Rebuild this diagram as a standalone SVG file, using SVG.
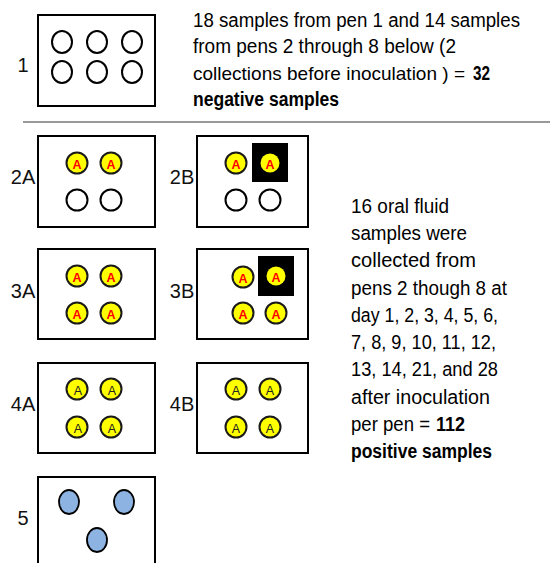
<svg xmlns="http://www.w3.org/2000/svg" width="550" height="563" viewBox="0 0 550 563">
<style>
.box{fill:#fff;stroke:#000;stroke-width:2}
.w{fill:#fff;stroke:#000;stroke-width:2}
.y{fill:#ffff00;stroke:#1a1a1a;stroke-width:2}
.yi{fill:#ffff00;stroke:none}
.b{fill:#8db3e2;stroke:#000;stroke-width:1.8}
.sq{fill:#000}
.lbl{font-family:"Liberation Sans",Arial,sans-serif;font-size:20px;fill:#111;text-anchor:middle}
.ar{font-family:"Liberation Sans",Arial,sans-serif;font-size:12.5px;font-weight:bold;fill:#ff0000;text-anchor:middle}
.ak{font-family:"Liberation Sans",Arial,sans-serif;font-size:12.5px;fill:#222;text-anchor:middle}
.t{font-family:"Liberation Sans",Arial,sans-serif;font-size:20px;fill:#000}
.tb{font-weight:bold}
</style>
<rect width="550" height="563" fill="#fff"/>
<g id="connectors">
<line x1="23" y1="122" x2="550" y2="122" stroke="#777" stroke-width="1.5"/>
</g>
<g id="pen1">
<rect class="box" x="38" y="15" width="117" height="91"/>
<ellipse class="w" cx="62" cy="42" rx="10" ry="11"/>
<ellipse class="w" cx="97" cy="42" rx="10" ry="11"/>
<ellipse class="w" cx="132" cy="42" rx="10" ry="11"/>
<ellipse class="w" cx="62" cy="72" rx="10" ry="11"/>
<ellipse class="w" cx="97" cy="72" rx="10" ry="11"/>
<ellipse class="w" cx="132" cy="72" rx="10" ry="11"/>
<text class="lbl" x="23" y="72">1</text>
</g>
<g id="text-top">
<text class="t" x="193" y="27" textLength="327" lengthAdjust="spacingAndGlyphs">18 samples from pen 1 and 14 samples</text>
<text class="t" x="193" y="53" textLength="263" lengthAdjust="spacingAndGlyphs">from pens 2 through 8 below (2</text>
<text class="t" x="193" y="80" style="font-size:18.6px" textLength="272" lengthAdjust="spacingAndGlyphs">collections before inoculation ) =</text>
<text class="t tb" x="473" y="80" textLength="17" lengthAdjust="spacingAndGlyphs">32</text>
<text class="t tb" x="193" y="106" textLength="146" lengthAdjust="spacingAndGlyphs">negative samples</text>
</g>
<g id="pen2A">
<rect class="box" x="38" y="136" width="117" height="91"/>
<circle class="y" cx="77" cy="163" r="10.5"/><text class="ar" x="77" y="169">A</text>
<circle class="y" cx="111" cy="163" r="10.5"/><text class="ar" x="111" y="169">A</text>
<circle class="w" cx="77" cy="200" r="10.5"/>
<circle class="w" cx="111" cy="200" r="10.5"/>
<text class="lbl" x="23" y="184">2A</text>
</g>
<g id="pen2B">
<rect class="box" x="197" y="136" width="111" height="91"/>
<circle class="y" cx="236" cy="163" r="10.5"/><text class="ar" x="236" y="169">A</text>
<rect class="sq" x="252" y="143" width="36" height="39"/>
<circle class="yi" cx="270" cy="163" r="9.5"/><text class="ar" x="270" y="169">A</text>
<circle class="w" cx="236" cy="200" r="10.5"/>
<circle class="w" cx="270" cy="200" r="10.5"/>
<text class="lbl" x="182" y="184">2B</text>
</g>
<g id="pen3A">
<rect class="box" x="38" y="249" width="117" height="90"/>
<circle class="y" cx="77" cy="276" r="10.5"/><text class="ar" x="77" y="282">A</text>
<circle class="y" cx="111" cy="276" r="10.5"/><text class="ar" x="111" y="282">A</text>
<circle class="y" cx="77" cy="313" r="10.5"/><text class="ar" x="77" y="319">A</text>
<circle class="y" cx="111" cy="313" r="10.5"/><text class="ar" x="111" y="319">A</text>
<text class="lbl" x="23" y="298">3A</text>
</g>
<g id="pen3B">
<rect class="box" x="197" y="249" width="111" height="90"/>
<circle class="y" cx="243" cy="277" r="10.5"/><text class="ar" x="243" y="283">A</text>
<rect class="sq" x="258" y="256" width="36" height="40"/>
<circle class="yi" cx="276" cy="276" r="9.5"/><text class="ar" x="276" y="282">A</text>
<circle class="y" cx="243" cy="313" r="10.5"/><text class="ar" x="243" y="319">A</text>
<circle class="y" cx="276" cy="313" r="10.5"/><text class="ar" x="276" y="319">A</text>
<text class="lbl" x="182" y="298">3B</text>
</g>
<g id="pen4A">
<rect class="box" x="38" y="363" width="117" height="90"/>
<circle class="y" cx="77" cy="389" r="10.5"/><text class="ak" x="78" y="395">A</text>
<circle class="y" cx="111" cy="389" r="10.5"/><text class="ak" x="112" y="395">A</text>
<circle class="y" cx="77" cy="427" r="10.5"/><text class="ak" x="78" y="433">A</text>
<circle class="y" cx="111" cy="427" r="10.5"/><text class="ak" x="112" y="433">A</text>
<text class="lbl" x="23" y="411">4A</text>
</g>
<g id="pen4B">
<rect class="box" x="197" y="363" width="111" height="90"/>
<circle class="y" cx="236" cy="389" r="10.5"/><text class="ak" x="236" y="395">A</text>
<circle class="y" cx="270" cy="389" r="10.5"/><text class="ak" x="270" y="395">A</text>
<circle class="y" cx="236" cy="427" r="10.5"/><text class="ak" x="236" y="433">A</text>
<circle class="y" cx="270" cy="427" r="10.5"/><text class="ak" x="270" y="433">A</text>
<text class="lbl" x="182" y="411">4B</text>
</g>
<g id="pen5">
<rect class="box" x="38" y="477" width="117" height="100"/>
<ellipse class="b" cx="69" cy="502" rx="10" ry="12"/>
<ellipse class="b" cx="124" cy="502" rx="10" ry="12"/>
<ellipse class="b" cx="97" cy="540" rx="10" ry="12"/>
<text class="lbl" x="23" y="525">5</text>
</g>
<g id="text-right">
<text class="t" x="351" y="213" textLength="98" lengthAdjust="spacingAndGlyphs">16 oral fluid</text>
<text class="t" x="351" y="240" textLength="116" lengthAdjust="spacingAndGlyphs">samples were</text>
<text class="t" x="351" y="267" textLength="125" lengthAdjust="spacingAndGlyphs">collected  from</text>
<text class="t" x="351" y="295" textLength="156" lengthAdjust="spacingAndGlyphs">pens 2 though 8 at</text>
<text class="t" x="351" y="322" textLength="147" lengthAdjust="spacingAndGlyphs">day 1, 2, 3, 4, 5, 6,</text>
<text class="t" x="351" y="349" textLength="145" lengthAdjust="spacingAndGlyphs">7, 8, 9, 10, 11, 12,</text>
<text class="t" x="351" y="376" textLength="147" lengthAdjust="spacingAndGlyphs">13, 14, 21, and 28</text>
<text class="t" x="351" y="404" textLength="139" lengthAdjust="spacingAndGlyphs">after inoculation</text>
<text class="t" x="351" y="431" textLength="79" lengthAdjust="spacingAndGlyphs">per pen =</text>
<text class="t tb" x="436" y="431" textLength="29" lengthAdjust="spacingAndGlyphs">112</text>
<text class="t tb" x="351" y="458" textLength="141" lengthAdjust="spacingAndGlyphs">positive samples</text>
</g>
</svg>
